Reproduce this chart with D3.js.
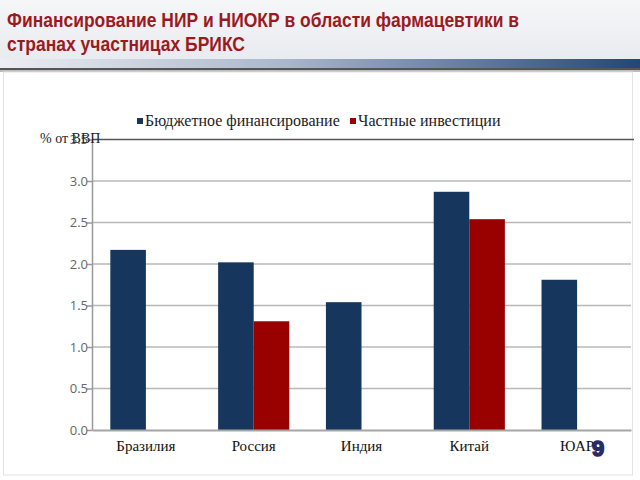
<!DOCTYPE html>
<html><head><meta charset="utf-8">
<script src="https://cdn.jsdelivr.net/npm/d3@7"></script>
<style>body{margin:0;background:#fff}svg{display:block}</style>
</head><body><svg id="c" width="640" height="480"></svg>
<script>
const titleLines = ["Финансирование НИР и НИОКР в области фармацевтики в", "странах участницах БРИКС"];
const categories = ["Бразилия", "Россия", "Индия", "Китай", "ЮАР"];
const seriesNames = ["Бюджетное финансирование", "Частные инвестиции"];
const budget = [2.17, 2.02, 1.54, 2.87, 1.81];
const privateInv = [null, 1.31, null, 2.54, null];
const yTicks = [0.0, 0.5, 1.0, 1.5, 2.0, 2.5, 3.0, 3.5];
const yLabel = "% от ВВП";
const pageNum = "9";
const colors = ["#17365d", "#990000"];

const svg = d3.select("#c");
const defs = svg.append("defs");
const hg = defs.append("linearGradient").attr("id","hg").attr("x1",0).attr("x2",0).attr("y1",0).attr("y2",1);
hg.append("stop").attr("offset","0").attr("stop-color","#f5f6f8");
hg.append("stop").attr("offset","1").attr("stop-color","#e8ebef");
const bg = defs.append("linearGradient").attr("id","bg");
bg.append("stop").attr("offset","0").attr("stop-color","#eceef2");
bg.append("stop").attr("offset","0.45").attr("stop-color","#a9b6cb");
bg.append("stop").attr("offset","1").attr("stop-color","#24457a");

svg.append("rect").attr("x",0).attr("y",0).attr("width",640).attr("height",60).attr("fill","url(#hg)");
svg.append("rect").attr("x",0).attr("y",59).attr("width",640).attr("height",9).attr("fill","url(#bg)");
svg.append("rect").attr("x",0).attr("y",68).attr("width",640).attr("height",2).attr("fill","#555");
svg.append("rect").attr("x",0).attr("y",70).attr("width",640).attr("height",2).attr("fill","#bbb");

svg.append("rect").attr("x",3.5).attr("y",72).attr("width",629).attr("height",403)
  .attr("fill","none").attr("stroke","#e2e2e2").attr("stroke-width",1);

const titleW = [512, 238];
svg.append("g").selectAll("text").data(titleLines).join("text")
  .attr("x",7).attr("y",(d,i)=>27+i*24)
  .attr("textLength",(d,i)=>titleW[i]).attr("lengthAdjust","spacingAndGlyphs")
  .attr("font-family","'Liberation Sans',Arial,sans-serif")
  .attr("font-weight","bold").attr("font-size",20).attr("fill","#9c1a1f")
  .text(d=>d);

const x0 = d3.scaleBand().domain(categories).range([92,631]).paddingInner(0.34).paddingOuter(0.17);
const x1 = d3.scaleBand().domain([0,1]).range([0,x0.bandwidth()]);
const y = d3.scaleLinear().domain([0,3.5]).range([430,139.5]);

const grid = svg.append("g");
grid.selectAll("line").data(yTicks.filter(t=>t>0 && t<3.5)).join("line")
  .attr("x1",92).attr("x2",631).attr("y1",d=>y(d)).attr("y2",d=>y(d))
  .attr("stroke","#b8b8b8").attr("stroke-width",1.5);
svg.append("line").attr("x1",92).attr("x2",634).attr("y1",y(3.5)).attr("y2",y(3.5)).attr("stroke","#555").attr("stroke-width",1.3);

const yAxis = d3.axisLeft(y).tickValues(yTicks).tickFormat(d3.format(".1f")).tickSize(5).tickSizeOuter(0);
const ya = svg.append("g").attr("transform","translate(92,0)").call(yAxis);
ya.select(".domain").attr("stroke","#999").attr("stroke-width",1.5);
ya.selectAll(".tick line").attr("stroke","#999").attr("stroke-width",1.5);
ya.selectAll(".tick text").attr("font-family","'Open Sans','Liberation Sans',sans-serif").attr("font-size",13).attr("fill","#666").attr("x",-4);

const data = categories.map((c,i)=>({c, v:[budget[i], privateInv[i]]}));
const groups = svg.append("g").selectAll("g").data(data).join("g").attr("transform",d=>`translate(${x0(d.c)},0)`);
groups.selectAll("rect").data(d=>d.v.map((v,k)=>({v,k})).filter(o=>o.v!=null)).join("rect")
  .attr("x",o=>x1(o.k)).attr("width",x1.bandwidth())
  .attr("y",o=>y(o.v)).attr("height",o=>y(0)-y(o.v)).attr("fill",o=>colors[o.k]);

const xAxis = d3.axisBottom(x0).tickSize(0).tickSizeOuter(0);
const xa = svg.append("g").attr("transform","translate(0,430)").call(xAxis);
xa.select(".domain").attr("stroke","#a6a6a6").attr("stroke-width",2);
xa.selectAll(".tick text").attr("font-family","'Liberation Serif','DejaVu Serif',serif").attr("font-size",15).attr("fill","#111").attr("dy","1.2em");

svg.append("text").attr("x",40).attr("y",143).attr("font-family","'Liberation Serif',serif").attr("font-size",14).attr("fill","#222").text(yLabel);

const leg = svg.append("g").attr("font-family","'Liberation Serif','DejaVu Serif',serif").attr("font-size",16).attr("fill","#222");
const legX = [137, 350];
seriesNames.forEach((s,i)=>{
  leg.append("rect").attr("x",legX[i]).attr("y",118).attr("width",6).attr("height",6).attr("fill",colors[i]);
  leg.append("text").attr("x",legX[i]+8).attr("y",126).text(s);
});

svg.append("text").attr("x",598).attr("y",456).attr("text-anchor","middle")
  .attr("font-family","'Liberation Sans',sans-serif").attr("font-weight","bold").attr("font-size",22)
  .attr("fill","#2a2a66").attr("stroke","#2a2a66").attr("stroke-width",1.5).text(pageNum);
</script></body></html>
